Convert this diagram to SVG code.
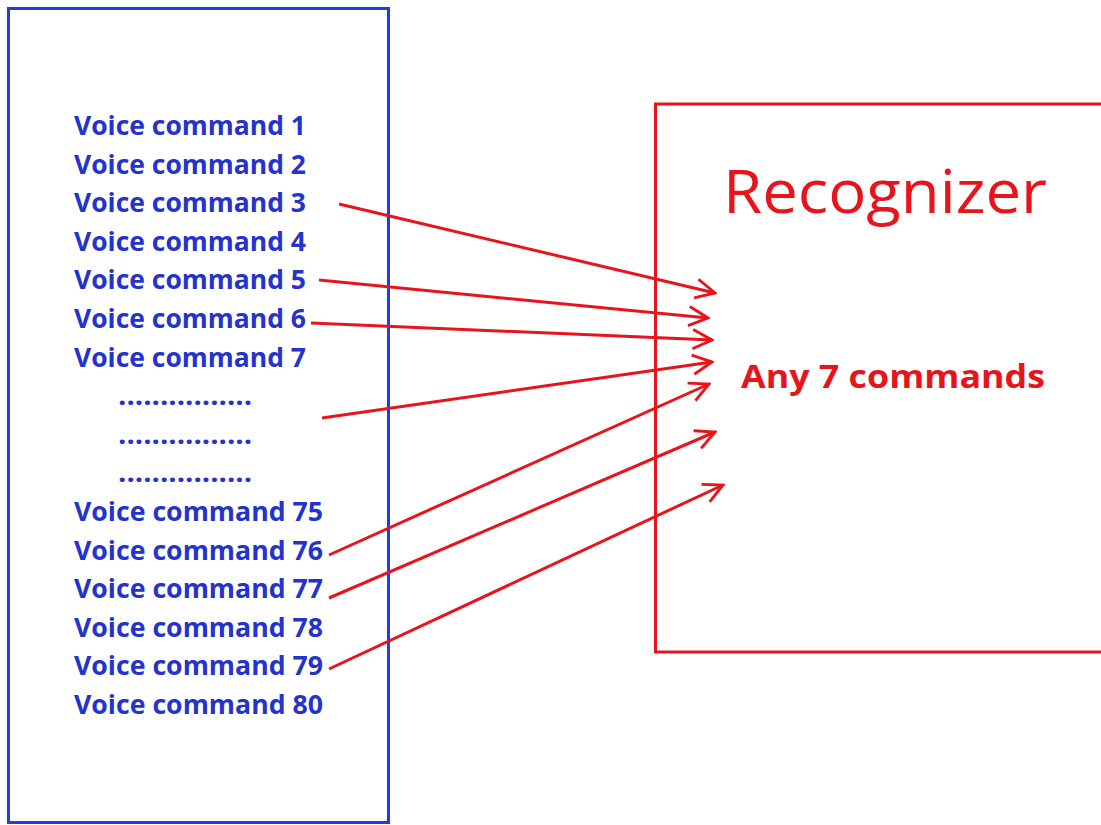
<svg xmlns="http://www.w3.org/2000/svg" width="1101" height="825" viewBox="0 0 1101 825">
<style>
.cmd{font-family:"Open Sans","Liberation Sans",sans-serif;font-weight:bold;font-size:27px;fill:#2433cc}
.dots{font-family:"Open Sans","Liberation Sans",sans-serif;font-weight:bold;font-size:27px;fill:#2433cc}
.rec{font-family:"Open Sans","Liberation Sans",sans-serif;font-size:60px;fill:#e8141c}
.any{font-family:"Open Sans","Liberation Sans",sans-serif;font-weight:bold;font-size:32px;fill:#e8141c}
.arr{stroke:#e8141c;stroke-width:3;fill:none;marker-end:url(#head)}
</style>
<defs>
<marker id="head" viewBox="0 0 20 20" refX="18" refY="10" markerWidth="8" markerHeight="8" orient="auto" markerUnits="strokeWidth">
<path d="M2,2 L18,10 L2,18" fill="none" stroke="#e8141c" stroke-width="2.4"/>
</marker>
</defs>
<rect width="1101" height="825" fill="#ffffff"/>
<g id="command-list">
<rect x="8.5" y="8.5" width="380" height="814" fill="none" stroke="#1f3de0" stroke-width="3"/>
<text class="cmd" x="74" y="135" textLength="232" lengthAdjust="spacingAndGlyphs">Voice command 1</text>
<text class="cmd" x="74" y="173.6" textLength="232" lengthAdjust="spacingAndGlyphs">Voice command 2</text>
<text class="cmd" x="74" y="212.2" textLength="232" lengthAdjust="spacingAndGlyphs">Voice command 3</text>
<text class="cmd" x="74" y="250.8" textLength="232" lengthAdjust="spacingAndGlyphs">Voice command 4</text>
<text class="cmd" x="74" y="289.4" textLength="232" lengthAdjust="spacingAndGlyphs">Voice command 5</text>
<text class="cmd" x="74" y="328" textLength="232" lengthAdjust="spacingAndGlyphs">Voice command 6</text>
<text class="cmd" x="74" y="366.6" textLength="232" lengthAdjust="spacingAndGlyphs">Voice command 7</text>
<text class="dots" x="118" y="405.2" textLength="134" lengthAdjust="spacingAndGlyphs">................</text>
<text class="dots" x="118" y="443.8" textLength="134" lengthAdjust="spacingAndGlyphs">................</text>
<text class="dots" x="118" y="482.4" textLength="134" lengthAdjust="spacingAndGlyphs">................</text>
<text class="cmd" x="74" y="521" textLength="249" lengthAdjust="spacingAndGlyphs">Voice command 75</text>
<text class="cmd" x="74" y="559.6" textLength="249" lengthAdjust="spacingAndGlyphs">Voice command 76</text>
<text class="cmd" x="74" y="598.2" textLength="249" lengthAdjust="spacingAndGlyphs">Voice command 77</text>
<text class="cmd" x="74" y="636.8" textLength="249" lengthAdjust="spacingAndGlyphs">Voice command 78</text>
<text class="cmd" x="74" y="675.4" textLength="249" lengthAdjust="spacingAndGlyphs">Voice command 79</text>
<text class="cmd" x="74" y="714" textLength="249" lengthAdjust="spacingAndGlyphs">Voice command 80</text>
</g>
<g id="recognizer">
<rect x="655.5" y="104" width="460" height="548" fill="none" stroke="#e8141c" stroke-width="3"/>
<text class="rec" x="723" y="213" textLength="324" lengthAdjust="spacingAndGlyphs">Recognizer</text>
<text class="any" x="741" y="388" textLength="304" lengthAdjust="spacingAndGlyphs">Any 7 commands</text>
</g>
<g id="connectors">
<line class="arr" x1="339" y1="204" x2="715" y2="293"/>
<line class="arr" x1="319" y1="280" x2="708" y2="318"/>
<line class="arr" x1="311" y1="323" x2="712" y2="340"/>
<line class="arr" x1="322" y1="418" x2="712" y2="362"/>
<line class="arr" x1="329" y1="555" x2="709" y2="384"/>
<line class="arr" x1="329" y1="598" x2="715" y2="432"/>
<line class="arr" x1="329" y1="669" x2="723" y2="485"/>
</g>
</svg>
